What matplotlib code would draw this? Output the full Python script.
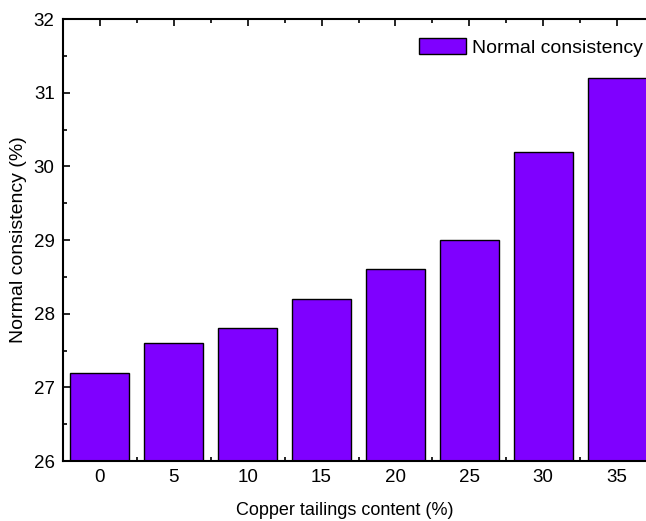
import numpy as np
import matplotlib.pyplot as plt
from matplotlib.ticker import MultipleLocator, FixedLocator

plt.rcParams['font.family'] = ['Liberation Sans', 'DejaVu Sans']

content = ['0', '5', '10', '15', '20', '25', '30', '35']
consistency = [27.2, 27.6, 27.8, 28.2, 28.6, 29.0, 30.2, 31.2]

fig = plt.figure(figsize=(6.46, 5.21), dpi=100)
# axes runs slightly past the right edge, as in the original
ax = fig.add_axes([63 / 646, 1 - 461 / 521, 591 / 646, (461 - 19) / 521])

x = np.arange(len(content))
ax.bar(x, consistency, width=0.8, color='#7f00ff', edgecolor='black',
       linewidth=1.0, label='Normal consistency', zorder=2)

ax.set_xlim(-0.5, len(content) - 0.5)
ax.set_ylim(26, 32)
ax.set_xticks(x, labels=content)
ax.xaxis.set_minor_locator(FixedLocator(x[:-1] + 0.5))
ax.yaxis.set_major_locator(MultipleLocator(1))
ax.yaxis.set_minor_locator(MultipleLocator(0.5))

ax.tick_params(which='both', direction='in', top=True, right=False,
               labelsize=13.5, width=1.2)
ax.tick_params(which='major', length=5, pad=6)
ax.tick_params(which='minor', length=3)
for s in ax.spines.values():
    s.set_linewidth(1.5)

ax.set_xlabel('Copper tailings content (%)', fontsize=13, labelpad=9)
ax.xaxis.set_label_coords((345 - 63) / 591, -0.093)
ax.set_ylabel('Normal consistency (%)', fontsize=14, labelpad=5)

ax.legend(loc='upper left', bbox_to_anchor=(419 / 646, 1 - 38 / 521),
          bbox_transform=fig.transFigure, frameon=False, fontsize=14,
          handlelength=2.4, handleheight=0.9, borderpad=0, borderaxespad=0,
          handletextpad=0.35)

fig.savefig('out.png', dpi=100)
